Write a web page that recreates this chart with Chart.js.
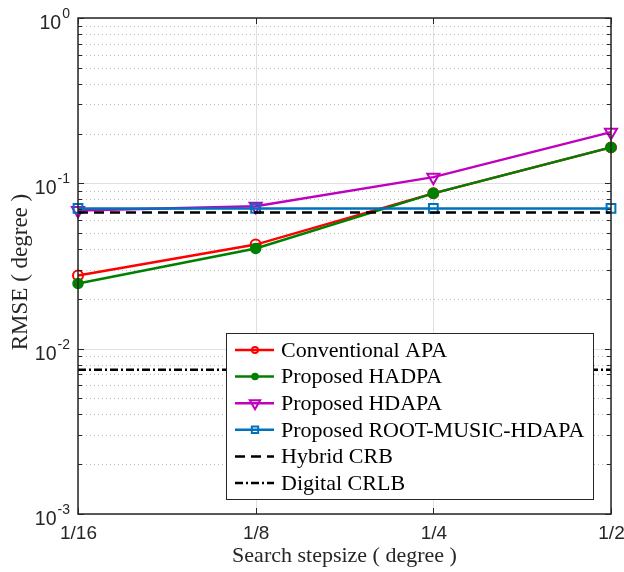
<!DOCTYPE html>
<html><head><meta charset="utf-8">
<script src="https://cdn.jsdelivr.net/npm/chart.js@4"></script>
<style>html,body{margin:0;padding:0;background:#fff;}#wrap{width:624px;height:572px;position:relative;}</style>
</head><body><div id="wrap"><canvas id="c" width="624" height="572"></canvas></div>
<script>
const categories = ['1/16', '1/8', '1/4', '1/2'];
const conventionalAPA = [0.0277, 0.0426, 0.087, 0.165];
const proposedHADPA = [0.0248, 0.0404, 0.087, 0.165];
const proposedHDAPA = [0.0686, 0.0726, 0.109, 0.204];
const rootMusicHDAPA = [0.0705, 0.0705, 0.0705, 0.0705];
const hybridCRB = [0.0667, 0.0667, 0.0667, 0.0667];
const digitalCRLB = [0.00746, 0.00746, 0.00746, 0.00746];
const yTickExponents = [0, -1, -2, -3];
const xTitle = 'Search stepsize ( degree )';
const yTitle = 'RMSE ( degree )';

const SANS = '"Liberation Sans", Arial, sans-serif';
const SERIF = '"Liberation Serif", "Times New Roman", serif';
const AX = '#262626';

const datasets = [
  {label: 'Conventional APA', data: conventionalAPA, borderColor: '#ff0000', pointStyle: 'circle', pointRadius: 5, pointBorderWidth: 2, pointBackgroundColor: 'rgba(0,0,0,0)', order: 6, lr: 3},
  {label: 'Proposed HADPA', data: proposedHADPA, borderColor: '#008000', pointStyle: 'circle', pointRadius: 5, pointBorderWidth: 1.5, pointBackgroundColor: '#008000', order: 5, lr: 3},
  {label: 'Proposed HDAPA', data: proposedHDAPA, borderColor: '#bf00bf', pointStyle: 'triangle', pointRotation: 180, pointRadius: 7, pointBorderWidth: 2, pointBackgroundColor: 'rgba(0,0,0,0)', order: 4, lr: 6},
  {label: 'Proposed ROOT-MUSIC-HDAPA', data: rootMusicHDAPA, borderColor: '#0072bd', pointStyle: 'rect', pointRadius: 6.2, pointBorderWidth: 2, pointBackgroundColor: 'rgba(0,0,0,0)', order: 3, lr: 4.5},
  {label: 'Hybrid CRB', data: hybridCRB, borderColor: '#000000', borderDash: [10, 6], pointRadius: 0, order: 2},
  {label: 'Digital CRLB', data: digitalCRLB, borderColor: '#000000', borderDash: [8, 3, 2, 3], pointRadius: 0, order: 1}
].map(d => Object.assign({borderWidth: 2.5, fill: false, tension: 0, clip: false,
  pointBorderColor: d.borderColor, pointHoverRadius: d.pointRadius}, d));

function ln(ctx, x1, y1, x2, y2) { ctx.beginPath(); ctx.moveTo(x1, y1); ctx.lineTo(x2, y2); ctx.stroke(); }

const matlabAxes = {
  id: 'matlabAxes',
  beforeDatasetsDraw(chart) {
    const {ctx, chartArea: a, scales: {x, y}} = chart;
    ctx.save();
    ctx.lineWidth = 1;
    ctx.strokeStyle = '#bcbcbc';
    ctx.setLineDash([1, 3]);
    for (let e = -3; e < 0; e++) for (let k = 2; k <= 9; k++) {
      const py = Math.round(y.getPixelForValue(k * Math.pow(10, e))) + 0.5;
      ln(ctx, a.left, py, a.right, py);
    }
    ctx.setLineDash([]);
    ctx.strokeStyle = '#e0e0e0';
    yTickExponents.forEach(e => {
      const py = Math.round(y.getPixelForValue(Math.pow(10, e))) + 0.5;
      ln(ctx, a.left, py, a.right, py);
    });
    categories.forEach((c, i) => {
      const px = Math.round(x.getPixelForValue(i)) + 0.5;
      ln(ctx, px, a.top, px, a.bottom);
    });
    ctx.restore();
  },
  afterDatasetsDraw(chart) {
    const {ctx, chartArea: a, scales: {x, y}} = chart;
    ctx.save();
    ctx.strokeStyle = AX;
    ctx.lineWidth = 1.5;
    ctx.strokeRect(a.left, a.top, a.right - a.left, a.bottom - a.top);
    ctx.lineWidth = 1;
    // y ticks
    for (let e = -3; e <= 0; e++) {
      const py = Math.round(y.getPixelForValue(Math.pow(10, e))) + 0.5;
      ln(ctx, a.left, py, a.left + 6, py); ln(ctx, a.right - 6, py, a.right, py);
      if (e < 0) for (let k = 2; k <= 9; k++) {
        const q = Math.round(y.getPixelForValue(k * Math.pow(10, e))) + 0.5;
        ln(ctx, a.left, q, a.left + 4, q); ln(ctx, a.right - 4, q, a.right, q);
      }
    }
    categories.forEach((c, i) => {
      const px = Math.round(x.getPixelForValue(i)) + 0.5;
      ln(ctx, px, a.bottom, px, a.bottom - 6); ln(ctx, px, a.top, px, a.top + 6);
    });
    // y tick labels
    ctx.fillStyle = AX;
    ctx.textBaseline = 'alphabetic';
    yTickExponents.forEach(e => {
      const py = y.getPixelForValue(Math.pow(10, e));
      const ex = String(e);
      ctx.font = '14px ' + SANS;
      const we = ctx.measureText(ex).width;
      const right = a.left - 8;
      ctx.textAlign = 'left';
      ctx.fillText(ex, right - we, py);
      ctx.font = '19.5px ' + SANS;
      ctx.textAlign = 'right';
      ctx.fillText('10', right - we - 1, py + 11);
    });
    // x tick labels
    ctx.font = '19px ' + SANS;
    ctx.textAlign = 'center';
    categories.forEach((c, i) => ctx.fillText(c, x.getPixelForValue(i) + 0.5, a.bottom + 25));
    // titles
    ctx.font = '22px ' + SERIF;
    ctx.fillText(xTitle, (a.left + a.right) / 2, 562);
    ctx.save();
    ctx.font = '23px ' + SERIF;
    ctx.translate(27, 272);
    ctx.rotate(-Math.PI / 2);
    ctx.fillText(yTitle, 0, 0);
    ctx.restore();
    // legend
    const L = 226, T = 333, R = 593, B = 499;
    ctx.fillStyle = '#ffffff';
    ctx.fillRect(L, T, R - L, B - T);
    ctx.strokeStyle = AX; ctx.lineWidth = 1;
    ctx.strokeRect(L + 0.5, T + 0.5, R - L, B - T);
    chart.data.datasets.forEach((d, i) => {
      const ry = 350 + i * 26.6;
      ctx.strokeStyle = d.borderColor;
      ctx.lineWidth = 2.5;
      ctx.setLineDash(d.borderDash || []);
      ln(ctx, 235, ry, 274, ry);
      ctx.setLineDash([]);
      if (d.pointRadius > 0) {
        ctx.fillStyle = d.pointBackgroundColor;
        ctx.lineWidth = d.pointBorderWidth;
        Chart.helpers.drawPoint(ctx, {pointStyle: d.pointStyle, rotation: d.pointRotation || 0,
          radius: d.lr, borderWidth: d.pointBorderWidth}, 255, ry);
      }
      ctx.fillStyle = '#000';
      ctx.font = '22px ' + SERIF;
      ctx.textAlign = 'left';
      ctx.textBaseline = 'middle';
      ctx.fillText(d.label, 281, ry + 1);
    });
    ctx.restore();
  }
};

new Chart(document.getElementById('c'), {
  type: 'line',
  data: {labels: categories, datasets},
  options: {
    responsive: false,
    animation: false,
    devicePixelRatio: 1,
    layout: {padding: {left: 78, right: 13, top: 18, bottom: 58}},
    plugins: {legend: {display: false}, tooltip: {enabled: false}},
    scales: {
      x: {type: 'category', offset: false, display: false},
      y: {type: 'logarithmic', min: 0.001, max: 1, display: false}
    }
  },
  plugins: [matlabAxes]
});
</script></body></html>
